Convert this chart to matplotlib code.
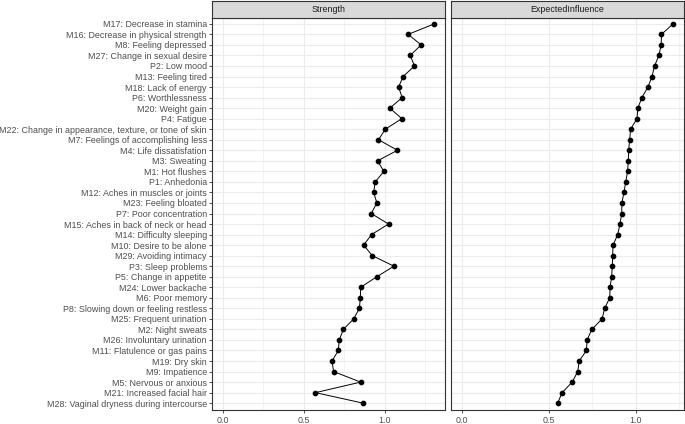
import matplotlib.pyplot as plt
from matplotlib.ticker import MultipleLocator

labels = [
    "M17: Decrease in stamina", "M16: Decrease in physical strength", "M8: Feeling depressed",
    "M27: Change in sexual desire", "P2: Low mood", "M13: Feeling tired", "M18: Lack of energy",
    "P6: Worthlessness", "M20: Weight gain", "P4: Fatigue",
    "M22: Change in appearance, texture, or tone of skin", "M7: Feelings of accomplishing less",
    "M4: Life dissatisfation", "M3: Sweating", "M1: Hot flushes", "P1: Anhedonia",
    "M12: Aches in muscles or joints", "M23: Feeling bloated", "P7: Poor concentration",
    "M15: Aches in back of neck or head", "M14: Difficulty sleeping", "M10: Desire to be alone",
    "M29: Avoiding intimacy", "P3: Sleep problems", "P5: Change in appetite",
    "M24: Lower backache", "M6: Poor memory", "P8: Slowing down or feeling restless",
    "M25: Frequent urination", "M2: Night sweats", "M26: Involuntary urination",
    "M11: Flatulence or gas pains", "M19: Dry skin", "M9: Impatience",
    "M5: Nervous or anxious", "M21: Increased facial hair", "M28: Vaginal dryness during intercourse",
]

strength = [
    1.307, 1.145, 1.225, 1.158, 1.184, 1.114, 1.086, 1.108, 1.032, 1.106,
    1.004, 0.962, 1.079, 0.956, 0.995, 0.942, 0.932, 0.952, 0.917, 1.024,
    0.919, 0.870, 0.924, 1.057, 0.952, 0.852, 0.850, 0.844, 0.809, 0.745,
    0.720, 0.714, 0.675, 0.685, 0.852, 0.573, 0.868,
]

expected_influence = [
    1.216, 1.149, 1.147, 1.134, 1.109, 1.094, 1.071, 1.036, 1.013, 1.008,
    0.971, 0.966, 0.960, 0.958, 0.954, 0.943, 0.933, 0.921, 0.920, 0.910,
    0.897, 0.870, 0.868, 0.866, 0.862, 0.853, 0.851, 0.822, 0.807, 0.748,
    0.721, 0.717, 0.675, 0.667, 0.635, 0.577, 0.551,
]

panels = [("Strength", strength), ("ExpectedInfluence", expected_influence)]

plt.rcParams['font.family'] = ['Liberation Sans', 'DejaVu Sans']

W, H = 685, 424
fig = plt.figure(figsize=(W / 100, H / 100), dpi=100)

n = len(labels)
ypos = [n - 1 - i for i in range(n)]

panel_px = [(212, 445), (451.3, 683.7)]
top_px, bottom_px, strip_top = 17.5, 409.5, 0.8
border = "#333333"

for i, ((name, vals), (x0, x1)) in enumerate(zip(panels, panel_px)):
    ax = fig.add_axes([x0 / W, 1 - bottom_px / H, (x1 - x0) / W, (bottom_px - top_px) / H])
    ax.plot(vals, ypos, color="black", lw=0.7, zorder=3)
    ax.plot(vals, ypos, "o", color="black", ms=3.1, zorder=4)

    hi = max(vals)
    ax.set_xlim(-0.05 * hi, hi * 1.05)
    ax.set_ylim(-0.6, n - 1 + 0.6)
    ax.xaxis.set_major_locator(MultipleLocator(0.5))
    ax.xaxis.set_minor_locator(MultipleLocator(0.25))
    ax.set_xticks([0.0, 0.5, 1.0])
    ax.set_xticklabels(["0.0", "0.5", "1.0"])
    ax.set_yticks(ypos)
    ax.grid(True, which="major", color="#ebebeb", lw=0.8)
    ax.grid(True, which="minor", axis="x", color="#ebebeb", lw=0.4)
    ax.set_axisbelow(True)
    for s in ax.spines.values():
        s.set_color(border)
        s.set_linewidth(0.8)
    ax.tick_params(axis="x", which="major", length=2.2, width=0.6, color=border,
                   labelsize=6.4, labelcolor="#4d4d4d", pad=2.5)
    ax.tick_params(axis="x", which="minor", length=0)
    if i == 0:
        ax.set_yticklabels(labels)
        ax.tick_params(axis="y", length=2.2, width=0.6, color=border,
                       labelsize=6.4, labelcolor="#4d4d4d", pad=1.5)
    else:
        ax.set_yticklabels([])
        ax.tick_params(axis="y", length=0)

    sax = fig.add_axes([x0 / W, 1 - top_px / H, (x1 - x0) / W, (top_px - strip_top) / H])
    sax.set_facecolor("#d9d9d9")
    sax.set_xticks([])
    sax.set_yticks([])
    for s in sax.spines.values():
        s.set_color(border)
        s.set_linewidth(0.8)
    sax.text(0.5, 0.5, name, ha="center", va="center", fontsize=6.4,
             color="#1a1a1a", transform=sax.transAxes)

fig.savefig("out.png", dpi=100)
